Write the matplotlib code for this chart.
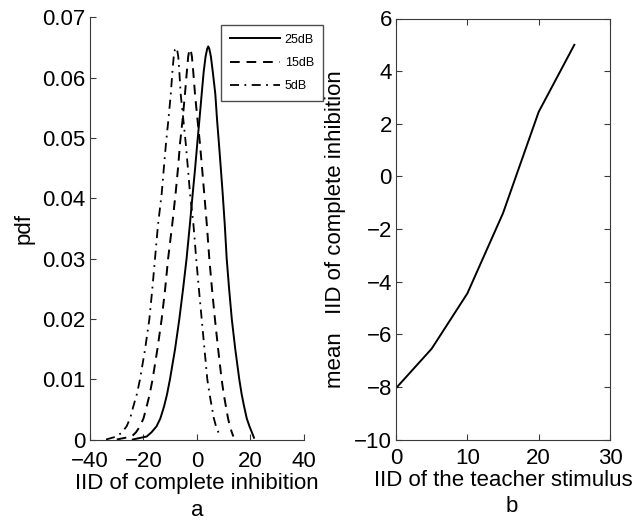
# pdf of IID of complete inhibition (a) and mean IID vs teacher stimulus (b)

import numpy as np
import matplotlib
matplotlib.use('Agg')
import matplotlib.pyplot as plt

plt.rcParams['font.family'] = ['Liberation Sans', 'DejaVu Sans']
plt.rcParams['font.size'] = 16

#~()~()~()~()~()~()~()~()~()~()~()~()~()~()~()~()~()~()~()~()~()~()~()~()~#
# panel a: pdf curves (left branch, peak, right branch)
x_25dB = [-24.0, -18.8, -17.0, -15.1, -13.7, -12.3, -11.2, -10.1, -8.2, -6.6, -5.2, -3.9,
          -2.7, -1.6, -0.7, 0.1, 0.9, 1.75, 2.5, 3.2, 3.8, 4.2,
          4.6, 5.2, 5.9, 6.85, 7.5, 8.2, 8.9, 9.6, 10.4, 11.1, 12.0,
          13.0, 14.3, 15.8, 16.7, 17.6, 18.6, 19.6, 20.5, 21.3]
y_25dB = [0.0, 0.0005, 0.0012, 0.0022, 0.0035, 0.0055, 0.0075, 0.010, 0.015, 0.020, 0.025, 0.030,
          0.0355, 0.0408, 0.045, 0.0491, 0.053, 0.0573, 0.061, 0.0635, 0.0648, 0.0652,
          0.0648, 0.0635, 0.061, 0.0573, 0.053, 0.0491, 0.045, 0.0408, 0.0355, 0.030, 0.025,
          0.020, 0.015, 0.010, 0.0075, 0.0055, 0.0035, 0.0022, 0.0012, 0.0003]

x_15dB = [-30.0, -24.4, -22.8, -21.3, -20.0, -18.8, -17.7, -16.6, -14.8, -13.2, -11.9, -10.8,
          -9.3, -8.0, -7.1, -6.35, -5.4, -4.5, -3.8, -3.3, -2.9, -2.6,
          -2.3, -1.9, -1.4, -0.75, 0.2, 1.1, 1.9, 2.7, 3.7, 4.6, 5.6,
          6.7, 7.9, 9.2, 10.0, 10.8, 11.6, 12.3, 13.0, 13.6]
y_15dB = [0.0, 0.0005, 0.0012, 0.0022, 0.0035, 0.0055, 0.0075, 0.010, 0.015, 0.020, 0.025, 0.030,
          0.0355, 0.0408, 0.045, 0.0491, 0.053, 0.0573, 0.061, 0.0635, 0.0645, 0.0648,
          0.0645, 0.0635, 0.061, 0.0573, 0.053, 0.0491, 0.045, 0.0408, 0.0355, 0.030, 0.025,
          0.020, 0.015, 0.010, 0.0075, 0.0055, 0.0035, 0.0022, 0.0012, 0.0005]

x_5dB = [-34.0, -30.0, -28.0, -26.3, -25.0, -23.8, -22.5, -21.3, -19.4, -17.8, -16.7, -15.7,
         -14.6, -13.2, -12.4, -11.6, -10.7, -9.8, -9.2, -8.7, -8.25, -7.85,
         -7.45, -7.0, -6.6, -6.1, -5.1, -4.2, -3.4, -2.6, -1.3, -0.3, 0.7,
         1.75, 2.8, 3.85, 4.7, 5.5, 6.3, 7.1, 8.0, 8.9]
y_5dB = [0.0, 0.0005, 0.0012, 0.0022, 0.0035, 0.0055, 0.0075, 0.010, 0.015, 0.020, 0.025, 0.030,
         0.0355, 0.0408, 0.045, 0.0491, 0.053, 0.0573, 0.061, 0.0635, 0.0647, 0.0650,
         0.0647, 0.0635, 0.061, 0.0573, 0.053, 0.0491, 0.045, 0.0408, 0.0355, 0.030, 0.025,
         0.020, 0.015, 0.010, 0.0075, 0.0055, 0.0035, 0.0022, 0.0012, 0.0005]

legend_labels = ['25dB', '15dB', '5dB']

# panel b: mean IID of complete inhibition vs teacher IID
teacher_iid = [0, 5, 10, 15, 20, 25]
mean_iid = [-8.05, -6.55, -4.45, -1.4, 2.45, 5.0]

#~()~()~()~()~()~()~()~()~()~()~()~()~()~()~()~()~()~()~()~()~()~()~()~()~#
def plot_panels():
    W, H = 638.0, 520.0
    fig = plt.figure(figsize=(6.38, 5.2), dpi=100)

    spine_col = '#3a3a3a'

    # ---- panel a
    ax1 = fig.add_axes([90/W, 1-439.5/H, 214/W, 422/H])
    l1, = ax1.plot(x_25dB, y_25dB, 'k-', lw=1.4)
    l2, = ax1.plot(x_15dB, y_15dB, 'k--', lw=1.4, dashes=(5, 3.5))
    l3, = ax1.plot(x_5dB, y_5dB, 'k-.', lw=1.3, dashes=(5, 3, 1, 3))
    ax1.set_xlim(-40, 40)
    ax1.set_ylim(0, 0.07)
    ax1.set_xticks([-40, -20, 0, 20, 40])
    ax1.set_yticks(np.arange(0, 0.071, 0.01))
    ax1.set_yticklabels(['0', '0.01', '0.02', '0.03', '0.04', '0.05', '0.06', '0.07'])
    ax1.spines['top'].set_visible(False)
    ax1.spines['right'].set_visible(False)
    for s in ['left', 'bottom']:
        ax1.spines[s].set_color(spine_col)
    ax1.tick_params(direction='in', length=4, color=spine_col, pad=3)
    ax1.tick_params(axis='x', pad=8)
    ax1.set_ylabel('pdf', labelpad=6)
    ax1.set_xlabel('IID of complete inhibition', labelpad=1)

    leg = fig.legend([l1, l2, l3], legend_labels, loc='upper left',
                     bbox_to_anchor=(221/W, 1-25/H), fontsize=9, frameon=True,
                     fancybox=False, handlelength=4.0, borderpad=0.7, labelspacing=0.9,
                     handletextpad=0.4, borderaxespad=0)
    leg.get_frame().set_edgecolor('#222222')
    leg.get_frame().set_linewidth(1.0)

    # ---- panel b
    ax2 = fig.add_axes([396/W, 1-439.5/H, 214/W, 421/H])
    ax2.plot(teacher_iid, mean_iid, 'k-', lw=1.4)
    ax2.set_xlim(0, 30)
    ax2.set_ylim(-10, 6)
    ax2.set_xticks([0, 10, 20, 30])
    ax2.set_yticks(np.arange(-10, 7, 2))
    for s in ax2.spines.values():
        s.set_color(spine_col)
    ax2.tick_params(direction='in', length=4, color=spine_col, top=True, right=True, pad=3)
    ax2.tick_params(axis='x', pad=6)
    ax2.set_ylabel('mean   IID of complete inhibition', labelpad=6)
    ax2.set_xlabel('IID of the teacher stimulus', labelpad=1)

    fig.text(197/W, 1-511/H, 'a', ha='center', va='center', fontsize=16)
    fig.text(512/W, 1-507/H, 'b', ha='center', va='center', fontsize=16)

    fig.savefig('out.png', dpi=100)

#~()~()~()~()~()~()~()~()~()~()~()~()~()~()~()~()~()~()~()~()~()~()~()~()~#
if __name__ == '__main__':
    plot_panels()
